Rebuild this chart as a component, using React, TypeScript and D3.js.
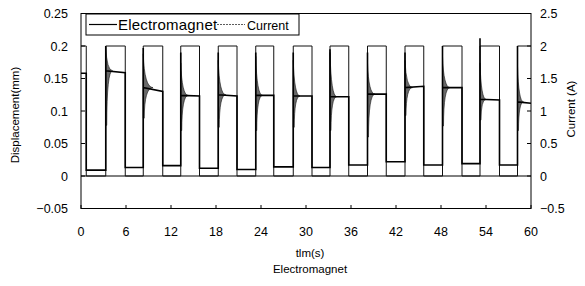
import * as React from 'react';
import * as d3 from 'd3';

// time axis (s)
const xTicks = [0, 6, 12, 18, 24, 30, 36, 42, 48, 54, 60];
const yTicks = [-0.05, 0, 0.05, 0.1, 0.15, 0.2, 0.25];
const yTickLabels = ['\u22120.05', '0', '0.05', '0.1', '0.15', '0.2', '0.25'];
const cTicks = [-0.5, 0, 0.5, 1, 1.5, 2, 2.5];
const cTickLabels = ['\u22120.5', '0', '0.5', '1', '1.5', '2', '2.5'];

// current square wave: on/off switching times (s), level in A
const firstOff = 0.7;
const onTimes = [3.3, 8.3, 13.3, 18.3, 23.3, 28.3, 33.2, 38.2, 43.2, 48.2, 53.2, 58.2];
const offTimes = [5.9, 10.9, 15.8, 20.8, 25.7, 30.8, 35.7, 40.7, 45.7, 50.8, 55.8, 60];
const currentOn = 2;

// displacement (mm)
const startLevel = 0.158;
const lowLevels = [0.009, 0.013, 0.016, 0.012, 0.010, 0.014, 0.013, 0.017, 0.022, 0.017, 0.019, 0.017];
const spikes = [0.2, 0.197, 0.19, 0.19, 0.19, 0.19, 0.195, 0.19, 0.19, 0.2, 0.212, 0.2];
const envTop = [0.199, 0.188, 0.174, 0.178, 0.184, 0.178, 0.19, 0.174, 0.178, 0.184, 0.174, 0.169];
const envBottom = [0.078, 0.089, 0.07, 0.075, 0.07, 0.075, 0.07, 0.06, 0.093, 0.077, 0.086, 0.07];
const settleStart = [0.162, 0.136, 0.124, 0.125, 0.124, 0.123, 0.122, 0.126, 0.136, 0.136, 0.118, 0.114];
const settleEnd = [0.159, 0.130, 0.123, 0.123, 0.124, 0.123, 0.122, 0.126, 0.138, 0.136, 0.117, 0.112];
const decay = [0.9, 1.3, 1.0, 1.0, 0.9, 0.9, 0.9, 1.0, 1.0, 1.0, 0.8, 0.8];

const font = '"Liberation Sans", Arial, sans-serif';

const x = d3.scaleLinear().domain([0, 60]).range([81, 531]);
const y = d3.scaleLinear().domain([-0.05, 0.25]).range([208.5, 13.5]);
const yc = d3.scaleLinear().domain([-0.5, 2.5]).range([208.5, 13.5]);

type Pt = [number, number];

export default function App() {
    // current trace
    const cur: Pt[] = [[0, currentOn], [firstOff, currentOn], [firstOff, 0]];
    onTimes.forEach((t, i) => {
        cur.push([t, 0], [t, currentOn], [offTimes[i], currentOn]);
        if (offTimes[i] < 60) cur.push([offTimes[i], 0]);
    });
    const curLine = d3.line<Pt>().x(d => x(d[0])).y(d => yc(d[1]));

    // displacement trace
    const disp: Pt[] = [[0, startLevel], [firstOff, startLevel], [firstOff, lowLevels[0]]];
    onTimes.forEach((t, i) => {
        disp.push([t, lowLevels[i]], [t, spikes[i]], [t, settleStart[i]], [offTimes[i], settleEnd[i]]);
        if (i + 1 < lowLevels.length) disp.push([offTimes[i], lowLevels[i + 1]]);
    });
    const dispLine = d3.line<Pt>().x(d => x(d[0])).y(d => y(d[1]));

    // oscillation envelope after each switch-on
    const envelopes = onTimes.map((t, i) => {
        const p = d3.path();
        const x0 = x(t), x1 = x(t + decay[i]), xc = x(t + 0.15);
        p.moveTo(x0, y(envTop[i]));
        p.quadraticCurveTo(xc, y(settleStart[i]), x1, y(settleStart[i]));
        p.quadraticCurveTo(xc, y(settleStart[i]), x0 + 1, y(envBottom[i]));
        p.lineTo(x0, y(envBottom[i]));
        p.closePath();
        return p.toString();
    });

    return (
        <svg width={585} height={286} style={{position: 'absolute', left: 0, top: 0, background: '#fff'}}>
            <rect x={81} y={13.5} width={450} height={195} fill="none" stroke="#000" strokeWidth={1}/>
            <line x1={81} x2={531} y1={y(0)} y2={y(0)} stroke="#000" strokeWidth={1}/>
            {yTicks.map((v, i) => (
                <g key={'l' + i}>
                    <line x1={81} x2={85} y1={y(v)} y2={y(v)} stroke="#000"/>
                    <text x={68} y={y(v) + 4.5} textAnchor="end" fontSize={12.5} fontFamily={font}>{yTickLabels[i]}</text>
                </g>
            ))}
            {cTicks.map((v, i) => (
                <g key={'r' + i}>
                    <line x1={527} x2={531} y1={yc(v)} y2={yc(v)} stroke="#000"/>
                    <text x={540} y={yc(v) + 4.5} textAnchor="start" fontSize={12.5} fontFamily={font}>{cTickLabels[i]}</text>
                </g>
            ))}
            {xTicks.map(v => (
                <g key={'x' + v}>
                    <line x1={x(v)} x2={x(v)} y1={208.5} y2={205} stroke="#000"/>
                    <text x={x(v)} y={236} textAnchor="middle" fontSize={12.5} fontFamily={font}>{v}</text>
                </g>
            ))}
            <path d={curLine(cur) ?? ''} fill="none" stroke="#111" strokeWidth={1}/>
            {envelopes.map((d, i) => (
                <path key={'e' + i} d={d} fill="#444" fillOpacity={0.8} stroke="#111" strokeWidth={0.6}/>
            ))}
            <path d={dispLine(disp) ?? ''} fill="none" stroke="#000" strokeWidth={1.6}/>

            <rect x={86} y={14} width={213} height={21} fill="#fff" stroke="#000" strokeWidth={1}/>
            <line x1={89} x2={117} y1={24.5} y2={24.5} stroke="#000" strokeWidth={1.2}/>
            <text x={118} y={30} fontSize={15} fontFamily={font} letterSpacing={0.2}>Electromagnet</text>
            <line x1={217} x2={245} y1={24.5} y2={24.5} stroke="#333" strokeWidth={0.8} strokeDasharray="2,1"/>
            <text x={247} y={29.5} fontSize={12.5} fontFamily={font}>Current</text>

            <text transform="translate(19,115) rotate(-90)" textAnchor="middle" fontSize={11.5} fontFamily={font}>Displacement(mm)</text>
            <text transform="translate(575,109) rotate(-90)" textAnchor="middle" fontSize={11.5} fontFamily={font}>Current (A)</text>
            <text x={310} y={257} textAnchor="middle" fontSize={11.5} fontFamily={font}>tlm(s)</text>
            <text x={310} y={273} textAnchor="middle" fontSize={11.5} fontFamily={font}>Electromagnet</text>
        </svg>
    );
}
